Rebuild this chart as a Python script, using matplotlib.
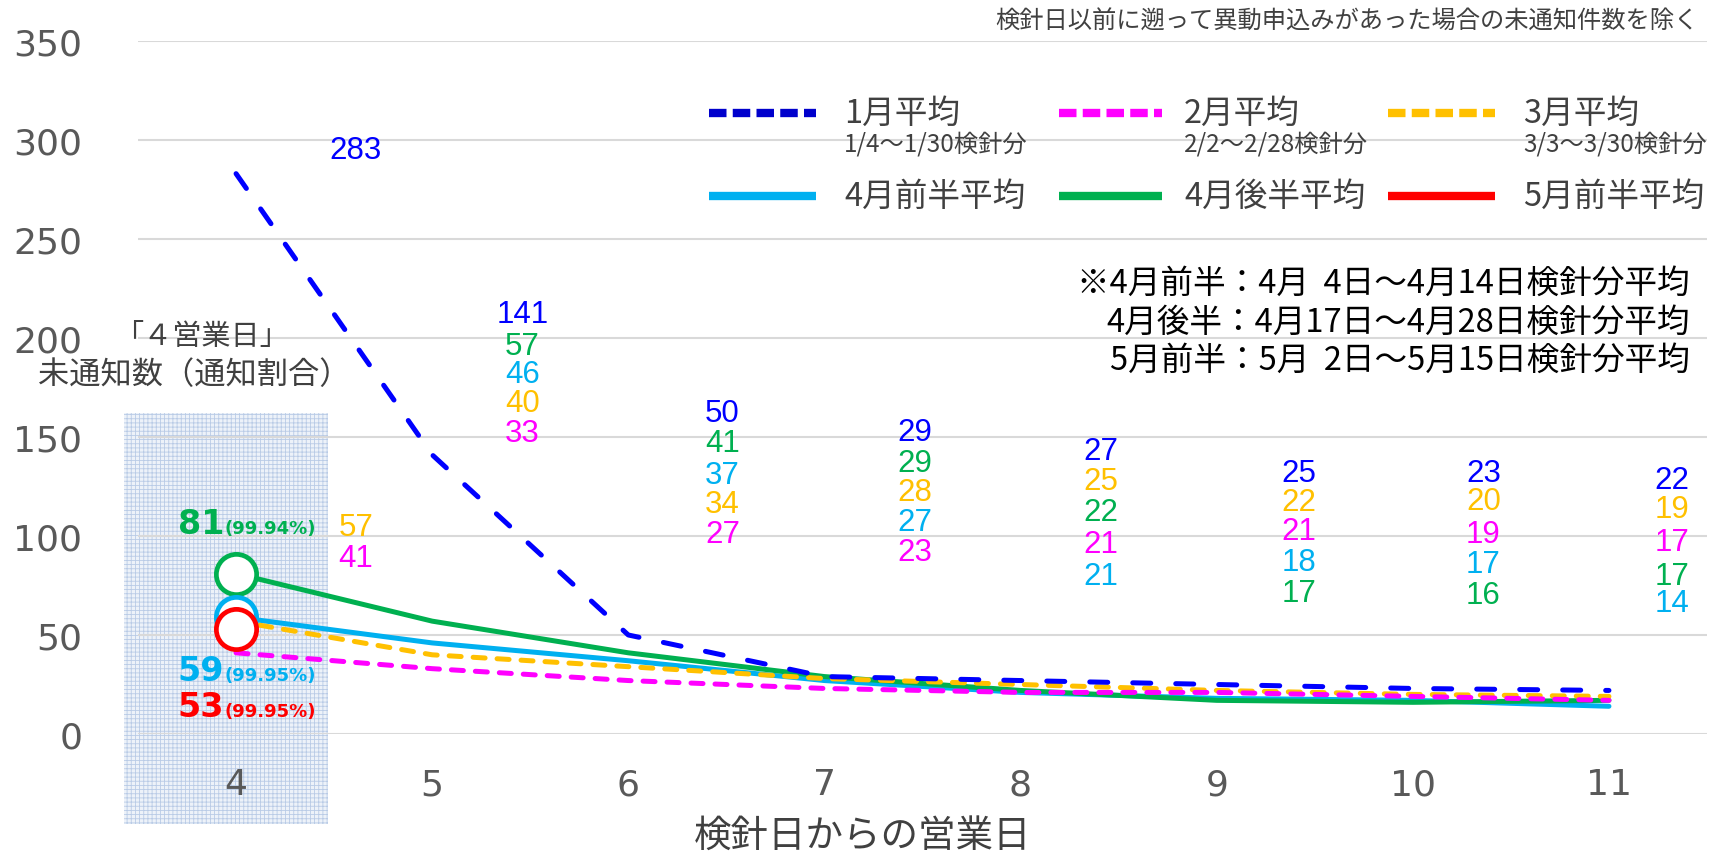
import matplotlib.pyplot as plt
from matplotlib.lines import Line2D
from matplotlib.patches import Rectangle

plt.rcParams['font.family'] = ['Noto Sans CJK JP', 'DejaVu Sans']
plt.rcParams['hatch.linewidth'] = 0.6

# --- data ---
days = [4, 5, 6, 7, 8, 9, 10, 11]
jan = [283, 141, 50, 29, 27, 25, 23, 22]
feb = [41, 33, 27, 23, 21, 21, 19, 17]
mar = [57, 40, 34, 28, 25, 22, 20, 19]
apr_first = [59, 46, 37, 27, 21, 18, 17, 14]
apr_second = [81, 57, 41, 29, 22, 17, 16, 17]
may_first = [53]
may_days = [4]

# notification ratio shown next to the day-4 counts
ratio_apr_second = '99.94%'
ratio_apr_first = '99.95%'
ratio_may_first = '99.95%'

series_names = ['1月平均', '2月平均', '3月平均', '4月前半平均', '4月後半平均', '5月前半平均']
series_periods = ['1/4～1/30検針分', '2/2～2/28検針分', '3/3～3/30検針分']
yticks = [0, 50, 100, 150, 200, 250, 300, 350]
highlight_day = 4

note_top = '検針日以前に遡って異動申込みがあった場合の未通知件数を除く'
note_lines = ['※4月前半：4月  4日～4月14日検針分平均',
              '4月後半：4月17日～4月28日検針分平均',
              '5月前半：5月  2日～5月15日検針分平均']

C_JAN = '#0000FF'
C_FEB = '#FF00FF'
C_MAR = '#FFC000'
C_APR1 = '#00B0F0'
C_APR2 = '#00B050'
C_MAY = '#FF0000'
GREY = '#595959'

# where the value columns sit (x) and each series' row in them (y)
label_x = [4.61, 5.46, 6.48, 7.46, 8.41, 9.42, 10.36, 11.32]
label_y = {
    'jan': [295, 212, 162, 152.5, 143, 132, 132, 128.5],
    'apr2': [None, 196, 147, 137, 112, 71, 70, 80],
    'apr1': [None, 182, 131, 107, 80, 87, 86, 66],
    'mar': [104.7, 167, 116, 122, 128, 117, 117.5, 113.5],
    'feb': [89, 152, 101, 92, 96, 102.5, 101, 97],
}

W, H = 1724, 853
fig = plt.figure(figsize=(W / 100, H / 100), dpi=100)
ax = fig.add_axes([138 / W, 1 - 735 / H, (1707 - 138) / W, (735 - 42) / H])


def fx(px):
    return px / W


def fy(py):
    return 1 - py / H


# shaded box behind the day-4 column
ax.add_patch(Rectangle((highlight_day - 0.57, -45.5), 1.04, 207.5,
                       facecolor='#edf2f9', edgecolor='#b9cbe6', hatch='++++',
                       linewidth=0, clip_on=False, zorder=0))

ax.plot(days, apr_first, color=C_APR1, lw=3.6, solid_capstyle='round', zorder=3)
ax.plot(days, apr_second, color=C_APR2, lw=3.6, solid_capstyle='round', zorder=3)
ax.plot(days, mar, color=C_MAR, lw=3.6, dashes=(2.4, 2.4), dash_capstyle='round', zorder=4)
ax.plot(days, feb, color=C_FEB, lw=3.6, dashes=(2.4, 2.4), dash_capstyle='round', zorder=5)
ax.plot(days, jan, color=C_JAN, lw=3.6, dashes=(3.6, 5.0), dash_capstyle='round', zorder=6)

# day-4 circles
ax.plot(days[:1], apr_second[:1], 'o', ms=29, mfc='white', mec=C_APR2, mew=3.4, zorder=7)
ax.plot(days[:1], apr_first[:1], 'o', ms=29, mfc='white', mec=C_APR1, mew=3.4, zorder=7)
ax.plot(may_days, may_first, 'o', ms=29, mfc='white', mec=C_MAY, mew=3.4, zorder=8)

# value columns
for key, vals, col in [('jan', jan, C_JAN), ('apr2', apr_second, C_APR2),
                       ('apr1', apr_first, C_APR1), ('mar', mar, C_MAR),
                       ('feb', feb, C_FEB)]:
    for xi, yi, v in zip(label_x, label_y[key], vals):
        if yi is None:
            continue
        ax.text(xi, yi, str(v), color=col, fontsize=22.5, ha='center', va='center',
                family='Liberation Sans', zorder=9)

# day-4 counts with ratio
for val, ratio, col, ybase in [(apr_second[0], ratio_apr_second, C_APR2, 101.5),
                               (apr_first[0], ratio_apr_first, C_APR1, 27.5),
                               (may_first[0], ratio_may_first, C_MAY, 9)]:
    ax.text(3.94, ybase, str(val), color=col, fontsize=24, fontweight='bold',
            family='DejaVu Sans', ha='right', va='baseline', zorder=9)
    ax.text(3.94, ybase, f'({ratio})', color=col, fontsize=13, fontweight='bold',
            family='DejaVu Sans', ha='left', va='baseline', zorder=9)

ax.set_xlim(3.5, 11.5)
ax.set_ylim(0, 350)
ax.set_xticks(days)
ax.set_xticklabels([str(d) for d in days])
ax.set_yticks(yticks)
ax.grid(axis='y', color='#d9d9d9', lw=1.5, zorder=1)
ax.set_axisbelow(True)
for s in ax.spines.values():
    s.set_visible(False)
ax.tick_params(axis='y', length=0, pad=40, labelsize=26, labelcolor=GREY)
ax.tick_params(axis='x', length=0, pad=24, labelsize=26, labelcolor=GREY)
for lab in ax.get_xticklabels() + ax.get_yticklabels():
    lab.set_family('DejaVu Sans')

fig.text(fx(863), fy(836), '検針日からの営業日', fontsize=27, color='#404040',
         ha='center', va='center')
fig.text(fx(201), fy(337), '「４営業日」', fontsize=21, color='#404040',
         ha='center', va='center')
fig.text(fx(194), fy(375), '未通知数（通知割合）', fontsize=22.5, color='#404040',
         ha='center', va='center')
fig.text(fx(1699), fy(22), note_top, fontsize=17.5, color='#404040',
         ha='right', va='center')
for i, line in enumerate(note_lines):
    fig.text(fx(1690), fy(284 + 38.5 * i), line, fontsize=23.5, color='black',
             ha='right', va='center')

# legend, laid out by hand in three columns
leg_cols = [(709, 816, 844), (1059, 1162, 1184), (1388, 1495, 1523)]
leg_styles = [
    dict(color='#0000CC', dashes=(2.1, 0.75)),
    dict(color=C_FEB, dashes=(2.1, 0.75)),
    dict(color=C_MAR, dashes=(2.1, 0.75)),
    dict(color=C_APR1),
    dict(color=C_APR2),
    dict(color=C_MAY),
]
for i, name in enumerate(series_names):
    row, col = divmod(i, 3)
    x0, x1, xt = leg_cols[col]
    ly = 114 if row == 0 else 197
    fig.add_artist(Line2D([fx(x0), fx(x1)], [fy(ly), fy(ly)], lw=6,
                          solid_capstyle='butt', dash_capstyle='butt',
                          **leg_styles[i]))
    fig.text(fx(xt), fy(ly), name, fontsize=23.5, color='#404040',
             ha='left', va='center')
    if row == 0:
        fig.text(fx(xt), fy(145), series_periods[col], fontsize=17.5,
                 color='#404040', ha='left', va='center')

fig.savefig('out.png', dpi=100)
